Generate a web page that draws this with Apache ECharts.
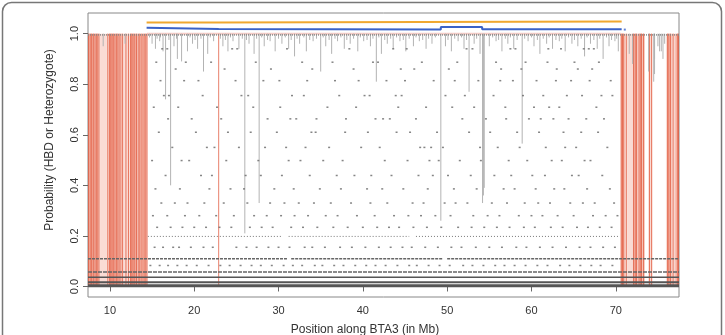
<!DOCTYPE html>
<html>
<head>
<meta charset="utf-8">
<script src="https://cdn.jsdelivr.net/npm/echarts@6/dist/echarts.min.js"></script>
<style>
    html, body { margin: 0; background: #fff; }
    #chart { width: 725px; height: 335px; }
</style>
</head>
<body>
<div id="chart"></div>
<script>
// tick labels
const xTicks = [10, 20, 30, 40, 50, 60, 70];
const yTicks = [0, 0.2, 0.4, 0.6, 0.8, 1.0];

// red (HBD) traces: vertical lines at positions (Mb) and shaded spans
const redLines = [7.45, 7.65, 7.8, 8.0, 8.1, 8.25, 8.4, 8.55, 8.7, 9.75, 9.95, 10.1, 10.25, 10.4, 10.6, 10.8,
    10.95, 11.1, 11.3, 11.5, 11.9, 12.2, 12.45, 12.6, 12.75, 12.95, 13.15, 13.35, 13.55, 13.8, 14.05, 14.25, 14.4, 22.9,
    70.65, 70.8, 70.95, 71.25, 72.1, 72.3, 72.45, 72.75, 72.9, 73.05, 73.3, 74.0, 74.25, 76.15, 76.3, 76.5, 76.8, 77.3, 77.45];
const redSpans = [[7.4, 8.85], [9.6, 11.7], [11.7, 12.3], [12.3, 14.45], [7.4, 8.0], [10.0, 10.9],
    [12.4, 13.2], [13.4, 14.2], [8.85, 9.6], [70.55, 71.4], [71.4, 71.95], [71.95, 73.45],
    [73.85, 74.35], [75.95, 77.5], [70.6, 71.0], [72.1, 72.6], [72.9, 73.4], [76.1, 76.6], [77.0, 77.5]];

// grey probability traces: [position, lowest value of the dip]
const greyDips = [[16.6, 0.74], [17.2, 0.40], [18.5, 0.89], [19.2, 0.93], [21.1, 0.85], [26.0, 0.21],
    [27.7, 0.33], [35.0, 0.85], [41.6, 0.81], [49.25, 0.26], [52.6, 0.77], [54.2, 0.33], [54.3, 0.36], [54.4, 0.39],
    [58.9, 0.565], [74.5, 0.81], [74.6, 0.84], [73.9, 0.85], [72.0, 0.88], [75.2, 0.93], [75.6, 0.9],
    [9.2, 0.95], [11.8, 0.96], [15.0, 0.96], [15.4, 0.94], [15.9, 0.97], [16.3, 0.93], [17.6, 0.95],
    [18.0, 0.9], [19.8, 0.96], [20.4, 0.94], [21.6, 0.92], [22.3, 0.97], [23.4, 0.95], [24.0, 0.93],
    [24.6, 0.97], [25.3, 0.94], [26.5, 0.96], [27.1, 0.92], [28.3, 0.95], [29.0, 0.97], [29.6, 0.93],
    [30.4, 0.96], [31.2, 0.94], [31.9, 0.91], [32.5, 0.96], [33.3, 0.93], [34.1, 0.97], [35.6, 0.95],
    [36.3, 0.92], [37.0, 0.97], [37.8, 0.94], [38.5, 0.96], [39.4, 0.93], [40.1, 0.97], [40.9, 0.95],
    [42.2, 0.92], [42.9, 0.96], [43.6, 0.94], [44.4, 0.97], [45.1, 0.93], [46.0, 0.95], [46.7, 0.97],
    [47.5, 0.94], [48.2, 0.96], [49.8, 0.95], [50.5, 0.93], [51.3, 0.97], [52.0, 0.94], [53.2, 0.96],
    [53.9, 0.92], [55.0, 0.95], [55.8, 0.97], [56.5, 0.93], [57.2, 0.96], [57.9, 0.94], [59.6, 0.97],
    [60.3, 0.95], [61.0, 0.92], [61.8, 0.96], [62.5, 0.94], [63.3, 0.97], [64.0, 0.93], [64.8, 0.96],
    [65.5, 0.95], [66.3, 0.91], [67.0, 0.96], [67.8, 0.94], [68.5, 0.9], [69.2, 0.95], [69.9, 0.97],
    [70.3, 0.93], [71.6, 0.92], [74.6, 0.9], [75.0, 0.95], [75.4, 0.93], [75.8, 0.96],
    [14.7, 0.985], [15.6, 0.98], [16.0, 0.985], [17.0, 0.975], [17.9, 0.98], [19.5, 0.985], [20.1, 0.975],
    [20.8, 0.98], [21.9, 0.985], [23.1, 0.98], [23.7, 0.975], [24.3, 0.985], [25.7, 0.98], [26.2, 0.975],
    [27.4, 0.98], [28.0, 0.985], [28.7, 0.975], [30.0, 0.98], [30.8, 0.985], [31.5, 0.975], [32.2, 0.98],
    [33.0, 0.985], [33.7, 0.975], [34.5, 0.98], [35.3, 0.985], [36.0, 0.975], [36.7, 0.98], [37.4, 0.985],
    [38.1, 0.975], [38.9, 0.98], [39.7, 0.985], [40.5, 0.975], [41.2, 0.98], [41.9, 0.985], [42.6, 0.975],
    [43.3, 0.98], [44.0, 0.985], [44.8, 0.975], [45.5, 0.98], [46.3, 0.985], [47.1, 0.975], [47.8, 0.98],
    [48.6, 0.985], [50.1, 0.975], [50.9, 0.98], [51.7, 0.985], [52.3, 0.975], [53.5, 0.98], [55.4, 0.985],
    [56.1, 0.975], [56.9, 0.98], [57.5, 0.985], [58.3, 0.975], [59.2, 0.98], [60.0, 0.985], [60.7, 0.975],
    [61.4, 0.98], [62.1, 0.985], [62.9, 0.975], [63.6, 0.98], [64.4, 0.985], [65.1, 0.975], [65.9, 0.98],
    [66.6, 0.985], [67.4, 0.975], [68.1, 0.98], [68.9, 0.985], [69.5, 0.975], [70.1, 0.98]];

// scattered genotype points, one array of positions per probability level
const dotLevels = [0.94, 0.887, 0.86, 0.814, 0.755, 0.709, 0.663, 0.61, 0.55, 0.498, 0.439, 0.386,
    0.33, 0.28, 0.234, 0.155, 0.083];
const dotPositions = [
    [16.2, 16.8, 24.5, 25.1, 31.0, 38.4, 43.6, 45.2, 52.3, 53.0, 57.5, 58.1, 62.0, 63.5, 66.2, 66.8, 67.4],
    [15.5, 19.0, 22.0, 27.3, 32.8, 36.4, 41.2, 41.8, 47.0, 51.2, 55.8, 59.3, 61.9, 65.1, 68.0],
    [17.8, 23.6, 29.1, 34.0, 38.9, 44.5, 46.1, 50.2, 56.4, 58.8, 63.0, 65.5, 67.2],
    [16.0, 18.8, 20.5, 24.9, 28.2, 30.1, 33.4, 36.7, 39.5, 42.8, 45.0, 48.4, 50.9, 53.7, 56.3, 57.8, 60.6, 62.9, 64.7, 66.9, 69.4],
    [16.4, 17.0, 21.0, 25.6, 26.4, 31.6, 33.0, 37.2, 40.2, 40.8, 43.9, 44.6, 49.8, 52.1, 55.5, 59.0, 61.4, 64.2, 66.0, 68.3, 69.6],
    [15.2, 18.1, 22.7, 27.0, 30.2, 35.8, 39.2, 44.2, 47.5, 50.6, 53.2, 56.9, 60.3, 62.1, 63.3, 67.7],
    [16.9, 19.7, 23.2, 28.7, 31.4, 32.1, 34.5, 38.0, 41.5, 42.4, 43.2, 46.3, 51.8, 54.6, 57.0, 59.7, 61.1, 62.6, 64.4, 66.5, 68.6],
    [15.8, 20.2, 24.0, 26.7, 29.8, 33.9, 34.4, 37.9, 40.6, 44.0, 45.6, 48.8, 52.6, 55.1, 58.3, 60.9, 63.8, 65.9, 67.9],
    [17.4, 21.5, 22.4, 25.3, 28.4, 30.9, 33.2, 36.0, 39.8, 42.0, 46.8, 47.3, 48.1, 49.5, 53.9, 56.0, 58.6, 61.7, 64.0, 65.3, 69.0],
    [15.0, 18.5, 19.4, 23.8, 27.6, 31.2, 32.6, 35.3, 37.6, 42.6, 45.3, 47.9, 49.0, 51.5, 54.0, 57.3, 59.5, 62.4, 63.6, 66.3, 67.0],
    [16.6, 20.8, 22.1, 26.1, 27.9, 30.4, 33.7, 36.9, 39.0, 41.0, 43.4, 46.6, 48.3, 50.1, 52.8, 55.6, 57.6, 60.1, 61.6, 64.8, 65.6, 68.4],
    [15.4, 18.3, 21.8, 24.3, 25.9, 29.5, 31.8, 34.9, 37.4, 40.5, 42.3, 44.8, 47.7, 50.8, 53.5, 56.7, 58.0, 60.5, 62.7, 63.9, 66.6, 69.3],
    [16.1, 17.7, 19.2, 21.2, 23.5, 26.3, 29.0, 30.7, 32.4, 34.2, 36.2, 38.6, 40.9, 42.9, 45.9, 47.2, 49.7, 51.0, 52.4, 55.3, 57.1, 59.2, 60.8, 62.2, 64.6, 66.1, 67.5, 69.8],
    [15.1, 16.8, 18.9, 20.6, 22.6, 24.7, 27.1, 28.6, 30.3, 31.9, 33.5, 35.6, 37.0, 39.3, 41.4, 43.7, 45.4, 46.9, 48.6, 50.4, 53.1, 54.8, 56.2, 58.5, 60.0, 61.3, 63.1, 65.0, 67.3, 68.8, 70.2],
    [15.6, 17.2, 18.6, 20.0, 21.4, 23.0, 24.4, 26.6, 28.0, 29.3, 31.5, 32.9, 34.6, 36.5, 38.2, 40.0, 41.7, 43.1, 44.3, 46.0, 47.6, 49.3, 51.3, 52.9, 54.4, 55.9, 57.4, 59.1, 60.4, 62.3, 63.7, 65.4, 66.7, 68.1, 69.5],
    [15.3, 16.3, 17.5, 18.2, 19.6, 21.1, 22.2, 25.0, 26.2, 27.4, 28.8, 30.0, 31.3, 33.1, 34.0, 35.5, 37.3, 38.7, 40.3, 41.9, 43.3, 44.7, 45.8, 47.4, 48.9, 50.5, 51.7, 53.4, 55.0, 56.5, 58.2, 59.4, 61.0, 62.5, 64.1, 65.7, 67.0, 68.5, 69.9],
    [14.8, 15.9, 16.9, 18.0, 19.1, 20.3, 21.7, 23.1, 24.2, 25.5, 26.8, 27.9, 29.2, 30.6, 31.7, 32.8, 34.3, 35.2, 36.6, 37.7, 39.1, 40.4, 41.5, 42.7, 44.1, 45.5, 46.4, 47.8, 49.1, 50.3, 51.9, 53.0, 54.3, 55.7, 56.8, 58.0, 59.3, 60.7, 61.9, 63.4, 64.5, 65.8, 67.1, 68.2, 69.6]
];

// dense rows of points near the bottom, drawn as runs: [from, to, level]
const denseRuns = [[14.5, 30.5, 0.198], [31.2, 45.5, 0.198], [46.3, 70.5, 0.198],
    [7.4, 31.0, 0.11], [31.5, 49.5, 0.11], [50.0, 77.5, 0.11],
    [7.4, 77.5, 0.057], [7.4, 77.5, 0.037], [7.4, 77.5, 0.017], [7.4, 77.5, 0.003], [7.4, 77.5, 0.995]];
const runStyles = { 0.198: [1, '#777', [1, 2]], 0.11: [1.5, '#666', [3, 1]], 0.057: [1.5, '#666', [4, 1]],
    0.037: [1.5, '#555', null], 0.017: [2, '#555', null], 0.003: [3, '#555', null], 0.995: [1.5, '#888', [1, 1]] };

// HBD segment summaries above the plot: [from, to, height]
const orangeSeg = [[14.35, 22.9, 1.044], [22.9, 70.7, 1.048]];
const blueSeg = [[14.35, 22.9, 1.018], [22.9, 49.25, 1.016], [49.25, 54.15, 1.026], [54.15, 70.7, 1.017]];
const blueStart = 1.023;
const blueDot = [[71.07, 1.016]];

const chart = echarts.init(document.getElementById('chart'));

const vline = (color, width) => (params, api) => {
    const a = api.coord([api.value(0), api.value(1)]);
    const b = api.coord([api.value(0), api.value(2)]);
    return { type: 'line', shape: { x1: a[0], y1: a[1], x2: b[0], y2: b[1] }, style: { stroke: color, lineWidth: width } };
};

const spanRect = (params, api) => {
    const a = api.coord([api.value(0), 1]);
    const b = api.coord([api.value(1), 0]);
    return { type: 'rect', shape: { x: a[0], y: a[1], width: b[0] - a[0], height: b[1] - a[1] },
        style: { fill: 'rgba(236, 115, 90, 0.26)' } };
};

const hseg = (styleOf) => (params, api) => {
    const a = api.coord([api.value(0), api.value(2)]);
    const b = api.coord([api.value(1), api.value(2)]);
    const s = styleOf(api.value(2));
    return { type: 'line', shape: { x1: a[0], y1: a[1], x2: b[0], y2: b[1] },
        style: { stroke: s[1], lineWidth: s[0], lineDash: s[2] || null } };
};

// segments -> step polyline
const stepPath = segs => {
    const pts = [];
    segs.forEach(s => { pts.push([s[0], s[2]]); pts.push([s[1], s[2]]); });
    return pts;
};

// flatten dot rows into [x, y]
const dots = [];
dotLevels.forEach((lv, i) => dotPositions[i].forEach(x => dots.push([x, lv])));

const option = {
    animation: false,
    grid: { left: 88, right: 46, top: 13, bottom: 38, show: true, borderColor: '#888', borderWidth: 1 },
    xAxis: {
        type: 'value', min: 7.4, max: 77.5,
        axisLine: { show: false },
        splitLine: { show: false },
        axisTick: { show: true, length: 5, lineStyle: { color: '#666' }, customValues: xTicks },
        axisLabel: { customValues: xTicks, color: '#333', fontSize: 11, margin: 8, fontFamily: 'Liberation Sans' },
    },
    yAxis: {
        type: 'value', min: -0.0416, max: 1.0816,
        axisLine: { show: false },
        splitLine: { show: false },
        axisTick: { show: true, length: 5, lineStyle: { color: '#666' }, customValues: yTicks },
        axisLabel: {
            customValues: yTicks, rotate: 90, color: '#333', fontSize: 11, margin: 8,
            fontFamily: 'Liberation Sans', formatter: v => v.toFixed(1),
        },
    },
    graphic: [
        { type: 'rect', shape: { x: 2.5, y: 2.5, width: 719, height: 345, r: 9 }, style: { fill: 'none', stroke: '#777', lineWidth: 1.5 }, z: 100 },
        { type: 'text', x: 365, y: 330, style: { text: 'Position along BTA3 (in Mb)', font: '12px "Liberation Sans"', fill: '#333', align: 'center', verticalAlign: 'middle' } },
        { type: 'text', x: 50, y: 140, rotation: Math.PI / 2, style: { text: 'Probability (HBD or Heterozygote)', font: '12px "Liberation Sans"', fill: '#333', align: 'center', verticalAlign: 'middle' } },
    ],
    series: [
        { type: 'custom', renderItem: spanRect, data: redSpans, clip: true, z: 1 },
        { type: 'custom', renderItem: vline('rgba(222, 75, 45, 0.7)', 1), data: redLines.map(x => [x, 0, 1]), clip: true, z: 2 },
        {
            type: 'line', data: [[14.4, 1.0], [70.6, 1.0]], symbol: 'none', z: 2,
            lineStyle: { color: 'rgba(240, 170, 160, 0.6)', width: 2 },
        },
        { type: 'custom', renderItem: vline('#b3b3b3', 1), data: greyDips.map(d => [d[0], 1, d[1]]), clip: true, z: 3 },
        { type: 'custom', renderItem: hseg(v => runStyles[v]), data: denseRuns, clip: true, z: 4 },
        {
            type: 'scatter', data: dots, symbol: 'rect', symbolSize: [2, 1.5], z: 5,
            itemStyle: { color: '#666' },
        },
        {
            type: 'line', data: stepPath(orangeSeg), symbol: 'none', z: 6,
            lineStyle: { color: '#f0a830', width: 2.2 },
        },
        {
            type: 'line', data: [[blueSeg[0][0], blueStart]].concat(stepPath(blueSeg)), symbol: 'none', z: 6,
            lineStyle: { color: '#3a62c8', width: 2 },
        },
        {
            type: 'scatter', data: blueDot, symbol: 'rect', symbolSize: [2, 2], z: 6,
            itemStyle: { color: '#3a62c8' },
        },
    ],
};

chart.setOption(option);
</script>
</body>
</html>
